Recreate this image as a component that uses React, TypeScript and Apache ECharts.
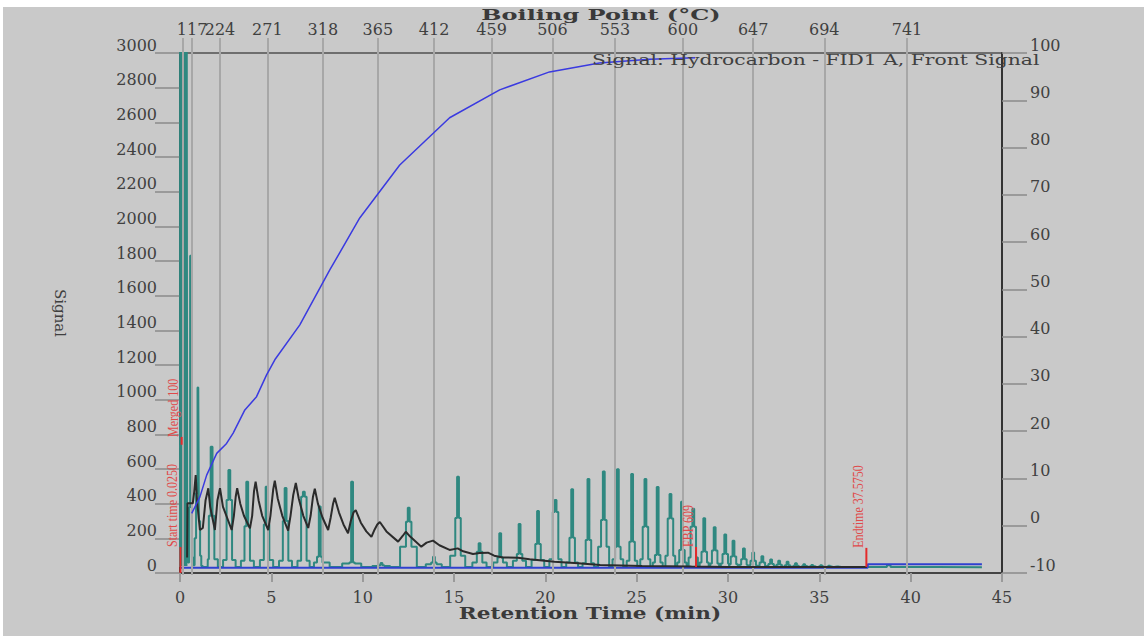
import React, { useEffect, useRef } from 'react';
import * as echarts from 'echarts';

const SERIF = '"DejaVu Serif", "Liberation Serif", serif';

// Boiling point gridlines (retention time in min) and their labels
const bpTimes = [0.16, 0.66, 2.19, 4.78, 7.82, 10.83, 13.91, 17.06, 20.39, 23.81, 27.53, 31.38, 35.27, 39.8];
const bpLabels = ['', '117', '224', '271', '318', '365', '412', '459', '506', '553', '600', '647', '694', '741'];

// Teal chromatogram: explicit lead-in (solvent band + first peaks)
const tealLead: [number, number][] = [
  [0.0, 35], [0.015, 3400], [0.03, 40], [0.045, 3400], [0.06, 40], [0.075, 3400], [0.09, 40],
  [0.105, 3400], [0.12, 40], [0.135, 3400], [0.15, 40], [0.165, 3400], [0.18, 40], [0.195, 3400],
  [0.21, 40], [0.225, 3400], [0.24, 40], [0.255, 3400], [0.27, 40], [0.285, 3400], [0.3, 40],
  [0.315, 3400], [0.33, 40], [0.345, 3400], [0.36, 40], [0.375, 3400],
  [0.41, 120], [0.47, 60], [0.53, 380], [0.58, 1830], [0.63, 380], [0.68, 90], [0.76, 45],
  [0.84, 200], [0.92, 460], [1.0, 1070], [1.07, 300], [1.13, 100], [1.2, 40], [1.3, 35],
];
// Teal peaks: [time, low step, mid step, apex]
const tealPeaks: [number, number, number, number][] = [
  [1.73, 80, 330, 729], [2.7, 75, 421, 594], [3.68, 70, 270, 527], [4.74, 75, 280, 498],
  [5.78, 70, 300, 490], [6.78, 70, 440, 469], [7.65, 60, 94, 383], [9.42, 55, 60, 527],
  [11.03, 40, 45, 58], [12.52, 152, 296, 377], [13.9, 50, 60, 94], [15.22, 100, 317, 556],
  [16.4, 60, 123, 171], [17.53, 60, 90, 229], [18.59, 70, 110, 283], [19.6, 75, 167, 358],
  [20.56, 80, 352, 421], [21.47, 60, 204, 483], [22.36, 56, 190, 542], [23.2, 152, 306, 585],
  [23.97, 80, 152, 598], [24.75, 70, 181, 571], [25.48, 80, 267, 542], [26.15, 60, 104, 496],
  [26.85, 100, 315, 456], [27.48, 60, 133, 411], [28.1, 90, 267, 370], [28.7, 60, 123, 316],
  [29.27, 55, 130, 264], [29.85, 55, 110, 222], [30.3, 50, 95, 186], [30.87, 48, 80, 142],
  [31.38, 45, 70, 118], [31.88, 42, 60, 96], [32.36, 40, 52, 78], [32.8, 38, 48, 71],
  [33.26, 38, 45, 65], [33.72, 37, 42, 56], [34.17, 36, 40, 50], [34.61, 36, 39, 46],
  [35.1, 35, 38, 44], [35.54, 35, 37, 42], [35.98, 35, 36, 38],
];
const tealTail: [number, number][] = [[36.4, 35], [38.6, 34], [38.8, 45], [39.0, 34], [43.9, 33]];
const TEAL_BASE = 35;

// Dark trace
const blackTrace: [number, number][] = [
  [0.39, 90], [0.41, 402], [0.7, 402], [0.78, 470], [0.86, 565], [0.93, 420], [1.09, 248],
  [1.25, 260], [1.4, 420], [1.55, 489], [1.65, 383], [1.91, 248], [2.05, 420], [2.19, 489],
  [2.35, 383], [2.83, 248], [2.95, 330], [3.05, 440], [3.13, 489], [3.3, 400], [3.5, 330],
  [3.83, 258], [3.95, 330], [4.05, 470], [4.14, 527], [4.3, 420], [4.5, 330], [4.83, 248],
  [4.95, 330], [5.1, 480], [5.19, 533], [5.35, 430], [5.6, 330], [5.92, 245], [6.05, 330],
  [6.2, 450], [6.34, 519], [6.5, 430], [6.75, 330], [7.02, 260], [7.15, 330], [7.28, 440],
  [7.38, 486], [7.55, 400], [7.8, 320], [8.11, 248], [8.25, 320], [8.38, 400], [8.47, 434],
  [8.7, 350], [8.95, 280], [9.2, 229], [9.35, 300], [9.5, 350], [9.62, 363], [9.9, 290],
  [10.2, 240], [10.48, 208], [10.65, 250], [10.8, 280], [10.94, 294], [11.3, 240], [11.94, 181],
  [12.2, 215], [12.36, 238], [12.6, 210], [13.21, 152], [13.5, 175], [13.85, 187], [14.2, 160],
  [14.76, 133], [15.2, 142], [15.5, 125], [16.04, 110], [16.4, 115], [16.86, 117], [17.2, 100],
  [17.68, 90], [18.5, 88], [19.14, 79], [20.5, 65], [21.8, 56], [23.0, 46], [25.3, 40],
  [28.0, 37], [30.0, 35], [37.6, 34],
];

// Cumulative recovery (%) on right axis
const cumulative: [number, number][] = [
  [0.64, 2.6], [1.09, 6.1], [1.46, 10.7], [2.01, 15.3], [2.55, 17.4], [2.91, 19.6], [3.55, 24.5],
  [4.19, 27.3], [4.74, 31.9], [5.19, 35.1], [6.56, 42.5], [8.2, 54.1], [9.84, 65.1],
  [12.03, 76.3], [14.76, 86.3], [17.5, 92.2], [20.23, 96.0], [22.96, 97.9], [25.7, 98.7], [28.2, 99.0],
];

// Blank baseline (blue) on left axis
const blankBaseline: [number, number][] = [[0, 30], [37.6, 30], [37.65, 50], [43.9, 50]];

// Red event markers
const markerTimes = [0.025, 0.09, 28.25, 37.575];
const markerLow = [0, 740, 35, 35];
const markerHigh = [150, 785, 150, 145];
const markerText = ['Start time 0.0250', 'Merged 100', 'FBP 609', 'Endtime 37.5750'];

const D = 0.1;
function buildTeal(): [number, number][] {
  const pts: [number, number][] = tealLead.map((p) => [p[0], p[1]]);
  let prev = tealLead[tealLead.length - 1][0];
  tealPeaks.forEach(([t, lo, mid, ap]) => {
    pts.push([(prev + t) / 2, TEAL_BASE]);
    pts.push([t - 2 * D, lo], [t - D, mid], [t, ap], [t + D, mid], [t + 2 * D, lo]);
    prev = t;
  });
  tealTail.forEach((p) => pts.push([p[0], p[1]]));
  return pts;
}

const labelStyle = { fontFamily: SERIF, fontSize: 16, color: '#404040' };

function buildOption(): any {
  return {
    animation: false,
    backgroundColor: '#c9c9c9',
    graphic: [
      {
        type: 'text', x: 598, y: 0, z: 10, scaleX: 1.6,
        style: { text: 'Boiling Point (°C)', font: `bold 15px ${SERIF}`, fill: '#3a3a3a', align: 'center', verticalAlign: 'top' },
      },
      {
        type: 'text', x: 589, y: 53, z: 10, scaleX: 1.45,
        style: { text: 'Signal: Hydrocarbon - FID1 A, Front Signal', font: `14px ${SERIF}`, fill: '#404040', align: 'left', verticalAlign: 'middle' },
      },
      {
        type: 'text', x: 587, y: 606, z: 10, scaleX: 1.35,
        style: { text: 'Retention Time (min)', font: `bold 16px ${SERIF}`, fill: '#3a3a3a', align: 'center', verticalAlign: 'middle' },
      },
    ],
    grid: [
      { left: 177, right: 142, top: 46, bottom: 63, show: true, borderColor: '#6e6e6e', borderWidth: 2, backgroundColor: 'transparent' },
      { left: 177, right: 142, top: 31, bottom: 61, show: false },
    ],
    xAxis: [
      {
        type: 'value', gridIndex: 0, min: 0, max: 45, interval: 5, position: 'bottom',
        axisLine: { show: true, onZero: false, lineStyle: { color: '#444', width: 2 } },
        axisTick: { show: true, length: 9, lineStyle: { color: '#9a9a9a', width: 2 } },
        axisLabel: { ...labelStyle, margin: 16 },
        splitLine: { show: false },
      },
      { type: 'value', gridIndex: 1, min: 0, max: 45, show: false },
    ],
    yAxis: [
      {
        type: 'value', gridIndex: 0, min: 0, max: 3000, interval: 200, position: 'left',
        axisLine: { show: true, onZero: false, lineStyle: { color: '#333', width: 2 } },
        axisTick: { show: true, length: 25, lineStyle: { color: '#8a8a8a', width: 1.5 } },
        axisLabel: { ...labelStyle, margin: 23, verticalAlign: 'bottom', formatter: (v: number) => String(v) },
        splitLine: { show: false },
        name: 'Signal', nameLocation: 'middle', nameGap: 113, nameRotate: -90,
        nameTextStyle: { fontFamily: SERIF, fontSize: 15, color: '#404040' },
      },
      {
        type: 'value', gridIndex: 0, min: -10, max: 100, interval: 10, position: 'right',
        axisLine: { show: true, onZero: false, lineStyle: { color: '#333', width: 2 } },
        axisTick: { show: true, length: 25, lineStyle: { color: '#8a8a8a', width: 1.5 } },
        axisLabel: { ...labelStyle, margin: 28, verticalAlign: 'bottom', formatter: (v: number) => String(v) },
        splitLine: { show: false },
      },
      { type: 'value', gridIndex: 1, min: 0, max: 1, show: false },
    ],
    series: [
      {
        type: 'line', xAxisIndex: 1, yAxisIndex: 2, data: [], z: 1, silent: true,
        markLine: {
          silent: true, symbol: ['none', 'none'], animation: false,
          lineStyle: { color: '#a7a7a7', width: 2, type: 'solid' },
          label: { show: true, position: 'end', distance: 1, formatter: (p: any) => p.name, ...labelStyle },
          data: bpTimes.map((t, i) => ({ xAxis: t, name: bpLabels[i] })),
        },
      },
      {
        type: 'line', name: 'Signal', xAxisIndex: 0, yAxisIndex: 0, step: 'middle', data: buildTeal(),
        showSymbol: false, symbol: 'none', z: 3,
        lineStyle: { color: '#2f8880', width: 2 },
      },
      {
        type: 'line', name: 'Blank', xAxisIndex: 0, yAxisIndex: 0, step: 'end', data: blankBaseline,
        showSymbol: false, symbol: 'none', z: 4,
        lineStyle: { color: '#3040d0', width: 2 },
      },
      {
        type: 'line', name: 'Trace', xAxisIndex: 0, yAxisIndex: 0, data: blackTrace,
        showSymbol: false, symbol: 'none', z: 5,
        lineStyle: { color: '#2b2b2b', width: 2 },
      },
      {
        type: 'line', name: 'Cumulative', xAxisIndex: 0, yAxisIndex: 1, data: cumulative,
        showSymbol: false, symbol: 'none', z: 6,
        lineStyle: { color: '#3a3ae0', width: 1.5 },
      },
      {
        type: 'custom', name: 'Markers', xAxisIndex: 0, yAxisIndex: 0, z: 7,
        data: markerTimes.map((t, i) => [t, markerLow[i], markerHigh[i]]),
        encode: { x: 0, y: [1, 2] },
        renderItem: (params: any, api: any) => {
          const t = api.value(0);
          const a = api.coord([t, api.value(1)]);
          const b = api.coord([t, api.value(2)]);
          return {
            type: 'group',
            children: [
              { type: 'line', shape: { x1: a[0], y1: a[1], x2: b[0], y2: b[1] }, style: { stroke: '#e42a2a', lineWidth: 2 } },
              {
                type: 'text', x: b[0] - 1, y: b[1], rotation: Math.PI / 2, scaleY: 1.25,
                style: { text: markerText[params.dataIndex], fill: '#e04a4a', font: '12px "Liberation Serif", serif', align: 'left', verticalAlign: 'bottom' },
              },
            ],
          };
        },
      },
    ],
  };
}

export default function App() {
  const ref = useRef<HTMLDivElement>(null);
  useEffect(() => {
    if (!ref.current) return;
    const chart = echarts.init(ref.current, null, { renderer: 'svg' });
    chart.setOption(buildOption());
    return () => chart.dispose();
  }, []);
  return (
    <div style={{ position: 'fixed', left: 0, top: 0, width: 1144, height: 636, background: '#ffffff' }}>
      <div ref={ref} style={{ position: 'absolute', left: 3, top: 7, width: 1141, height: 629 }} />
    </div>
  );
}
